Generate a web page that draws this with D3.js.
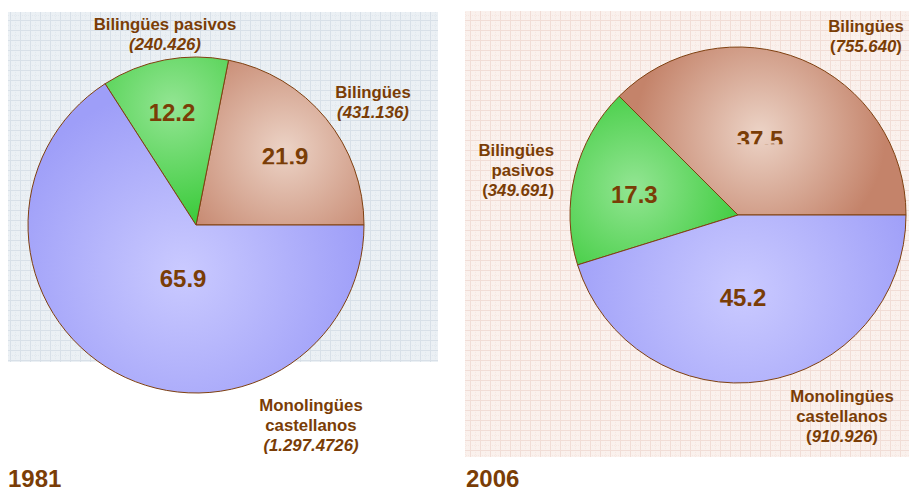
<!DOCTYPE html>
<html>
<head>
<meta charset="utf-8">
<script src="https://cdn.jsdelivr.net/npm/d3@7"></script>
<style>
  body { margin: 0; background: #fff; }
  svg text { font-family: "Liberation Sans", Arial, sans-serif; font-weight: bold; fill: #7a3d06; }
</style>
</head>
<body>
<svg id="chart" width="909" height="492"></svg>
<script>
// Data: shares (%) and absolute counts per group
const categories = ['Bilingües', 'Bilingües pasivos', 'Monolingües castellanos'];
const shares1981 = [21.9, 12.2, 65.9];
const shares2006 = [37.5, 17.3, 45.2];
const counts1981 = ['431.136', '240.426', '1.297.4726'];
const counts2006 = ['755.640', '349.691', '910.926'];
const years = ['1981', '2006'];

// Slice colours: [edge, highlight]
const sliceColors = [
    ['#c4836a', '#ecd3c6'],
    ['#35c935', '#93e593'],
    ['#9e9ef8', '#cacaff']
];

const svg = d3.select('#chart');
const defs = svg.append('defs');

// Background grid patterns
function makeGrid(id, base, line) {
    const p = defs.append('pattern')
        .attr('id', id)
        .attr('width', 10).attr('height', 10)
        .attr('patternUnits', 'userSpaceOnUse');
    p.append('rect').attr('width', 10).attr('height', 10).attr('fill', base);
    p.append('path').attr('d', 'M0,0.5H10M0.5,0V10')
        .attr('stroke', line).attr('stroke-width', 1).attr('fill', 'none');
    p.append('path').attr('d', 'M0,5.5H10M5.5,0V10')
        .attr('stroke', line).attr('stroke-width', 1).attr('stroke-dasharray', '1,1')
        .attr('opacity', 0.5).attr('fill', 'none');
}
makeGrid('gridBlue', '#ebf0f4', '#d8e0e8');
makeGrid('gridPink', '#faf1ed', '#f1ddd6');

const panels = [
    {
        shares: shares1981, counts: counts1981, year: years[0],
        bg: [8, 12, 430, 350], fill: 'url(#gridBlue)',
        cx: 196, cy: 225, r: 168,
        labelR: [0.67, 0.69, 0.325],
        labelAngleShift: [0.03, -0.02, -0.26],
        labelClip: [1, 0, 0],
        outside: [
            { lines: ['Bilingües'], x: 373, y: 98, anchor: 'middle' },
            { lines: ['Bilingües pasivos'], x: 165, y: 30, anchor: 'middle' },
            { lines: ['Monolingües', 'castellanos'], x: 311, y: 411, anchor: 'middle' }
        ],
        parenItalic: true,
        yearX: 8
    },
    {
        shares: shares2006, counts: counts2006, year: years[1],
        bg: [465, 11, 444, 446], fill: 'url(#gridPink)',
        cx: 738, cy: 215, r: 168,
        labelR: [0.47, 0.63, 0.49],
        labelAngleShift: [-0.11, -0.04, 0.09],
        labelClip: [4, 0, 0],
        outside: [
            { lines: ['Bilingües'], x: 866, y: 32, anchor: 'middle' },
            { lines: ['Bilingües', 'pasivos'], x: 554, y: 156, anchor: 'end' },
            { lines: ['Monolingües', 'castellanos'], x: 842, y: 402, anchor: 'middle' }
        ],
        parenItalic: false,
        yearX: 466
    }
];

const pie = d3.pie()
    .sort(null)
    .startAngle(Math.PI / 2)
    .endAngle(Math.PI / 2 - 2 * Math.PI);

panels.forEach((panel, pi) => {
    svg.append('rect')
        .attr('x', panel.bg[0]).attr('y', panel.bg[1])
        .attr('width', panel.bg[2]).attr('height', panel.bg[3])
        .attr('fill', panel.fill);

    const g = svg.append('g').attr('transform', `translate(${panel.cx},${panel.cy})`);
    const arc = d3.arc().innerRadius(0).outerRadius(panel.r);
    const arcs = pie(panel.shares);

    // label anchor positions inside slices
    const labelPos = arcs.map((d, i) => {
        const mid = (d.startAngle + d.endAngle) / 2 + panel.labelAngleShift[i];
        const rr = panel.r * panel.labelR[i];
        return [Math.sin(mid) * rr, -Math.cos(mid) * rr];
    });

    // radial gradients, centred on each slice's label
    arcs.forEach((d, i) => {
        const grad = defs.append('radialGradient')
            .attr('id', `grad${pi}_${i}`)
            .attr('gradientUnits', 'userSpaceOnUse')
            .attr('cx', labelPos[i][0]).attr('cy', labelPos[i][1] - 6)
            .attr('r', panel.r * (i === 2 ? 1.1 : 0.75));
        grad.append('stop').attr('offset', '0%').attr('stop-color', sliceColors[i][1]);
        grad.append('stop').attr('offset', '100%').attr('stop-color', sliceColors[i][0]);
    });

    g.selectAll('path.slice')
        .data(arcs)
        .join('path')
        .attr('class', 'slice')
        .attr('d', arc)
        .attr('fill', (d, i) => `url(#grad${pi}_${i})`)
        .attr('stroke', '#7f4010')
        .attr('stroke-width', 1);

    // the source clips the bottom of some value labels
    arcs.forEach((d, i) => {
        defs.append('clipPath')
            .attr('id', `clip${pi}_${i}`)
            .append('rect')
            .attr('x', labelPos[i][0] - 60)
            .attr('y', labelPos[i][1] - 40)
            .attr('width', 120)
            .attr('height', 40 + 9 - panel.labelClip[i] + (panel.labelClip[i] ? 0 : 10));
    });

    g.selectAll('text.pct')
        .data(arcs)
        .join('text')
        .attr('class', 'pct')
        .attr('x', (d, i) => labelPos[i][0])
        .attr('y', (d, i) => labelPos[i][1] + 9)
        .attr('clip-path', (d, i) => `url(#clip${pi}_${i})`)
        .attr('text-anchor', 'middle')
        .style('font-size', '24px')
        .text(d => d3.format('.1f')(d.data));

    // outside category labels
    panel.outside.forEach((o, i) => {
        const t = svg.append('text')
            .attr('text-anchor', o.anchor)
            .style('font-size', '16.8px');
        o.lines.forEach((line, k) => {
            t.append('tspan')
                .attr('x', o.x)
                .attr('y', o.y + k * 20)
                .text(line);
        });
        const cnt = t.append('tspan')
            .attr('x', o.x)
            .attr('y', o.y + o.lines.length * 20);
        if (panel.parenItalic) {
            cnt.style('font-style', 'italic').text(`(${panel.counts[i]})`);
        } else {
            cnt.text('(');
            t.append('tspan').style('font-style', 'italic').text(panel.counts[i]);
            t.append('tspan').text(')');
        }
    });

    svg.append('text')
        .attr('x', panel.yearX)
        .attr('y', 487)
        .style('font-size', '24px')
        .text(panel.year);
});
</script>
</body>
</html>
